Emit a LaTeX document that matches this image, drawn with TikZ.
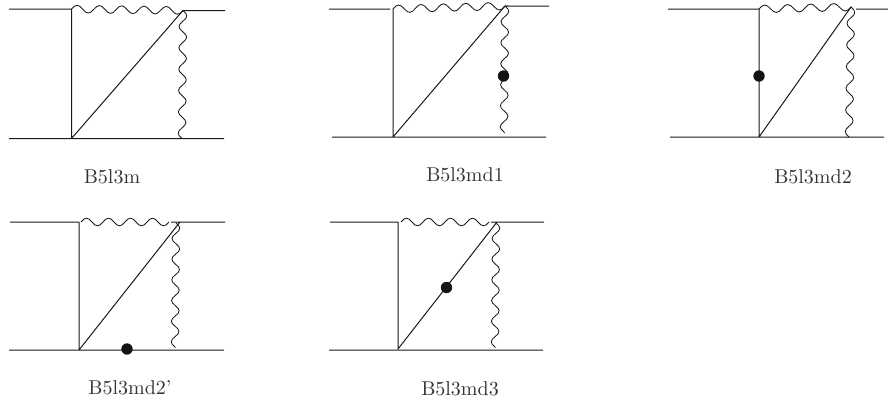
\documentclass[tikz,border=0pt]{standalone}
\usetikzlibrary{decorations}
\pgfdeclaredecoration{fullwave}{crest}{
  \state{crest}[switch if less than=.4*\pgfdecoratedpathlength/\wavecount to last,
                width=\pgfdecoratedpathlength/\wavecount]{
    \pgfmathsetmacro\wavelen{\pgfdecoratedpathlength/\wavecount}
    \pgfmathsetmacro\waveamp{1.333*\pgfdecorationsegmentamplitude}
    \pgfpathlineto{\pgfpointorigin}
    \pgfpathcurveto{\pgfpoint{.1821*\wavelen}{\waveamp}}{\pgfpoint{.3179*\wavelen}{\waveamp}}{\pgfpoint{.5*\wavelen}{0}}
    \pgfpathcurveto{\pgfpoint{.6821*\wavelen}{-\waveamp}}{\pgfpoint{.8179*\wavelen}{-\waveamp}}{\pgfpoint{\wavelen}{0}}
  }
  \state{last}[width=\pgfdecoratedremainingdistance]{\pgfpathlineto{\pgfpointdecoratedpathlast}}
  \state{final}{\pgfpathlineto{\pgfpointdecoratedpathlast}}
}
\tikzset{
  fermion/.style={line width=0.5pt,black!90},
  wavy/.style={line width=0.42pt,black!90,/utils/exec={\def\wavecount{#1}},decorate,decoration={fullwave,amplitude=1.9pt}},
  blob/.style={circle,fill=black!92,draw=none,inner sep=0pt,minimum size=5.7pt},
  caption/.style={text=black!80,inner sep=0pt}
}
\begin{document}
\begin{tikzpicture}[x=0.5pt,y=-0.5pt]
\useasboundingbox (0,0) rectangle (888,402);
% B5l3m
\coordinate (a1) at (9,9);\coordinate (a2) at (71.5,9);\coordinate (a3) at (183,10.5);\coordinate (a4) at (225,10.5);
\coordinate (a5) at (9,138.5);\coordinate (a6) at (71.5,138.5);\coordinate (a7) at (182,138.5);\coordinate (a8) at (224,138.5);
\draw[fermion] (a1)--(a2) (a3)--(a4) (a5)--(a8) (a2)--(a6) (a6)--(a3);
\draw[wavy=5] (a2)--(a3);
\draw[wavy=6] (a3)--(a7);
\node[caption] (t1) at (112,177) {B5l3m};
% B5l3md1
\coordinate (b1) at (329,9);\coordinate (b2) at (393,9);\coordinate (b3) at (505,6);\coordinate (b4) at (549,6);
\coordinate (b5) at (332,137);\coordinate (b6) at (393,137);\coordinate (b7) at (504,132);\coordinate (b8) at (546,137);\coordinate (b9) at (390,9);
\draw[fermion] (b1)--(b9) (b3)--(b4) (b5)--(b8) (b2)--(b6) (b6)--(b3);
\draw[wavy=5] (b2)--(b3);
\draw[wavy=6] (b3)--(b7);
\node[blob] (d1) at (503.5,76) {};
\node[caption] (t2) at (465,175) {B5l3md1};
% B5l3md2
\coordinate (c1) at (668,9);\coordinate (c2) at (759,9);\coordinate (c3) at (851,7);\coordinate (c4) at (888,9);
\coordinate (c5) at (670,137);\coordinate (c6) at (759,137);\coordinate (c7) at (849,137);\coordinate (c8) at (884,137);\coordinate (c9) at (856,9);
\draw[fermion] (c1)--(c2) (c9)--(c4) (c5)--(c8) (c2)--(c6) (c6)--(c3);
\draw[wavy=4] (c2)--(c3);
\draw[wavy=6] (c3)--(c7);
\node[blob] (d2) at (759,76) {};
\node[caption] (t3) at (813,177) {B5l3md2};
% B5l3md2'
\coordinate (e1) at (10,222);\coordinate (e2) at (79,222);\coordinate (e3) at (180,222);\coordinate (e4) at (225,222);
\coordinate (e5) at (9,350);\coordinate (e6) at (79,350);\coordinate (e7) at (175,347);\coordinate (e8) at (224,350);
\coordinate (e9) at (81,222);\coordinate (e10) at (169,222);\coordinate (e11) at (171,222);\coordinate (e12) at (176,223);
\draw[fermion] (e1)--(e2) (e11)--(e4) (e5)--(e8) (e2)--(e6) (e6)--(e3);
\draw[wavy=4] (e9)--(e10);
\draw[wavy=6] (e12)--(e7);
\node[blob] (d3) at (127,349) {};
\node[caption] (t4) at (130,388) {B5l3md2'};
% B5l3md3
\coordinate (f1) at (330,222);\coordinate (f2) at (398,222);\coordinate (f3) at (497,222);\coordinate (f4) at (544,222);
\coordinate (f5) at (329,350);\coordinate (f6) at (398,349);\coordinate (f7) at (495,347);\coordinate (f8) at (543,350);
\coordinate (f9) at (401,222);\coordinate (f10) at (489,222);\coordinate (f11) at (491,222);\coordinate (f12) at (496,223);
\draw[fermion] (f1)--(f2) (f11)--(f4) (f5)--(f8) (f2)--(f6) (f6)--(f3);
\draw[wavy=4] (f9)--(f10);
\draw[wavy=6] (f12)--(f7);
\node[blob] (d4) at (446.5,287.5) {};
\node[caption] (t5) at (460,389) {B5l3md3};
\end{tikzpicture}
\end{document}
